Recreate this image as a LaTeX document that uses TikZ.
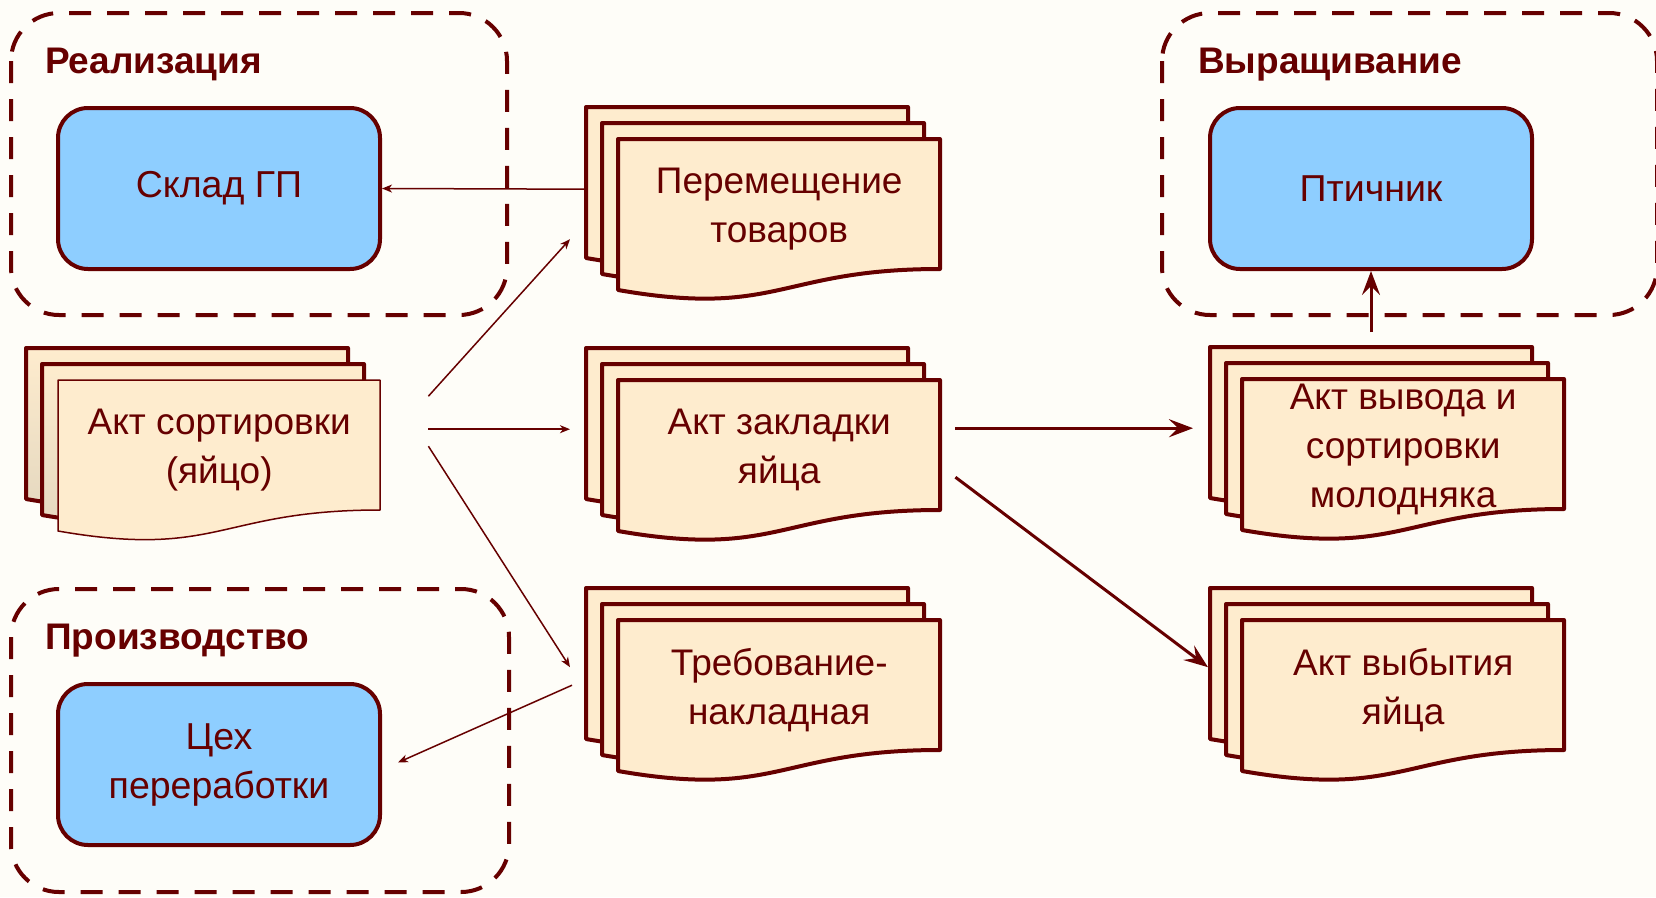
\documentclass[tikz,border=0pt]{standalone}
\usepackage{fontspec}
\setmainfont{Liberation Sans}
\usepackage{xcolor}
\usetikzlibrary{arrows.meta, positioning, calc}

\definecolor{brd}{RGB}{102,0,0}
\definecolor{paper}{RGB}{254,236,206}
\definecolor{paperdark}{RGB}{226,214,190}
\definecolor{sky}{RGB}{142,206,255}
\definecolor{bgcol}{RGB}{254,253,248}

\begin{document}
\begin{tikzpicture}[
    x=1pt, y=-1pt,
    every node/.style={text=brd},
    place/.style={rectangle, rounded corners=30pt, draw=brd, fill=sky, line width=4pt, minimum width=322pt, minimum height=161pt, align=center, font=\fontsize{37.5}{49}\selectfont},
    doctext/.style={rectangle, anchor=north west, inner sep=0pt, minimum width=322pt, minimum height=140pt, align=center, font=\fontsize{37}{48.5}\selectfont},
    area/.style={draw=brd, line width=4pt, rounded corners=48pt, dash pattern=on 22pt off 16pt},
    area_label/.style={anchor=base west, inner sep=0pt, font=\fontsize{37}{44}\selectfont\bfseries},
    sheet/.style={draw=brd, fill=paper, line width=4pt, line join=round},
    backsheet/.style={sheet},
    frontsheet/.style={sheet},
    thin_arrow/.style={-{Stealth[length=10pt, width=8pt, inset=3pt]}, line width=1.5pt, draw=brd},
    thick_arrow/.style={-{Stealth[length=24pt, width=18pt, inset=9pt]}, line width=3pt, draw=brd},
    stack/.pic={
      \foreach \d in {32,16}
        \path[backsheet] (-\d,-\d) -- (322-\d,-\d) -- (322-\d,130-\d)
          .. controls (161-\d,130-\d) and (161-\d,179-\d) .. (-\d,151-\d) -- cycle;
      \path[frontsheet] (0,0) -- (322,0) -- (322,130)
          .. controls (161,130) and (161,179) .. (0,151) -- cycle;
    }
  ]
  \useasboundingbox (0,0) rectangle (1656,897);
  \clip (0,0) rectangle (1656,897);
  \fill[bgcol] (0,0) rectangle (1656,897);

  % groups
  \draw[area] (11,13) rectangle (507,315);
  \draw[area] (11,589) rectangle (509,892);
  \draw[area] (1162,13) rectangle (1657,315);
  \node[area_label] (sales_lbl) at (45,73) {Реализация};
  \node[area_label] (prod_lbl) at (45,649) {Производство};
  \node[area_label] (grow_lbl) at (1198,73) {Выращивание};

  % places
  \node[place] (sklad) at (219,188.5) {Склад ГП};
  \node[place] (ptich) at (1371,188.5) {Птичник};
  \node[place] (cekh) at (219,764.5) {Цех\\переработки};

  % documents
  \pic[frontsheet/.style={sheet, line width=1.5pt}, backsheet/.style={sheet, top color=paper, bottom color=paperdark}] at (58,380) {stack};
  \node[doctext, font=\fontsize{37}{49.5}\selectfont] (sort) at (58,380) {Акт сортировки\\(яйцо)};
  \pic at (618,139) {stack};
  \node[doctext] (move) at (618,139) {Перемещение\\товаров};
  \pic at (618,380) {stack};
  \node[doctext] (zakl) at (618,380) {Акт закладки\\яйца};
  \pic at (618,620) {stack};
  \node[doctext] (req) at (618,620) {Требование-\\накладная};
  \pic at (1242,379) {stack};
  \node[doctext, font=\fontsize{37}{49}\selectfont] (vyvod) at (1242,379) {Акт вывода и\\сортировки\\молодняка};
  \pic at (1242,620) {stack};
  \node[doctext] (vybyt) at (1242,620) {Акт выбытия\\яйца};

  % flows
  \draw[thin_arrow] ($(sort.east)+(48,-54)$) -- ($(move.west)+(-48,30)$);
  \draw[thin_arrow] ($(sort.east)+(48,-21)$) -- ($(zakl.west)+(-48,-21)$);
  \draw[thin_arrow] ($(sort.east)+(48,-4)$) -- ($(req.west)+(-48,-23)$);
  \draw[thin_arrow] ($(move.west)+(-32,-20)$) -- (sklad.east);
  \draw[thin_arrow] ($(req.west)+(-46,-5)$) -- ($(cekh.east)+(16,-2)$);
  \draw[thick_arrow] ($(zakl.east)+(15,-22)$) -- ($(vyvod.west)+(-49,-21)$);
  \draw[thick_arrow] ($(zakl.east)+(15,27)$) -- ($(vybyt.west)+(-34,-23)$);
  \draw[thick_arrow] ($(ptich.south |- vyvod.north)+(0,-47)$) -- (ptich.south);
\end{tikzpicture}
\end{document}
